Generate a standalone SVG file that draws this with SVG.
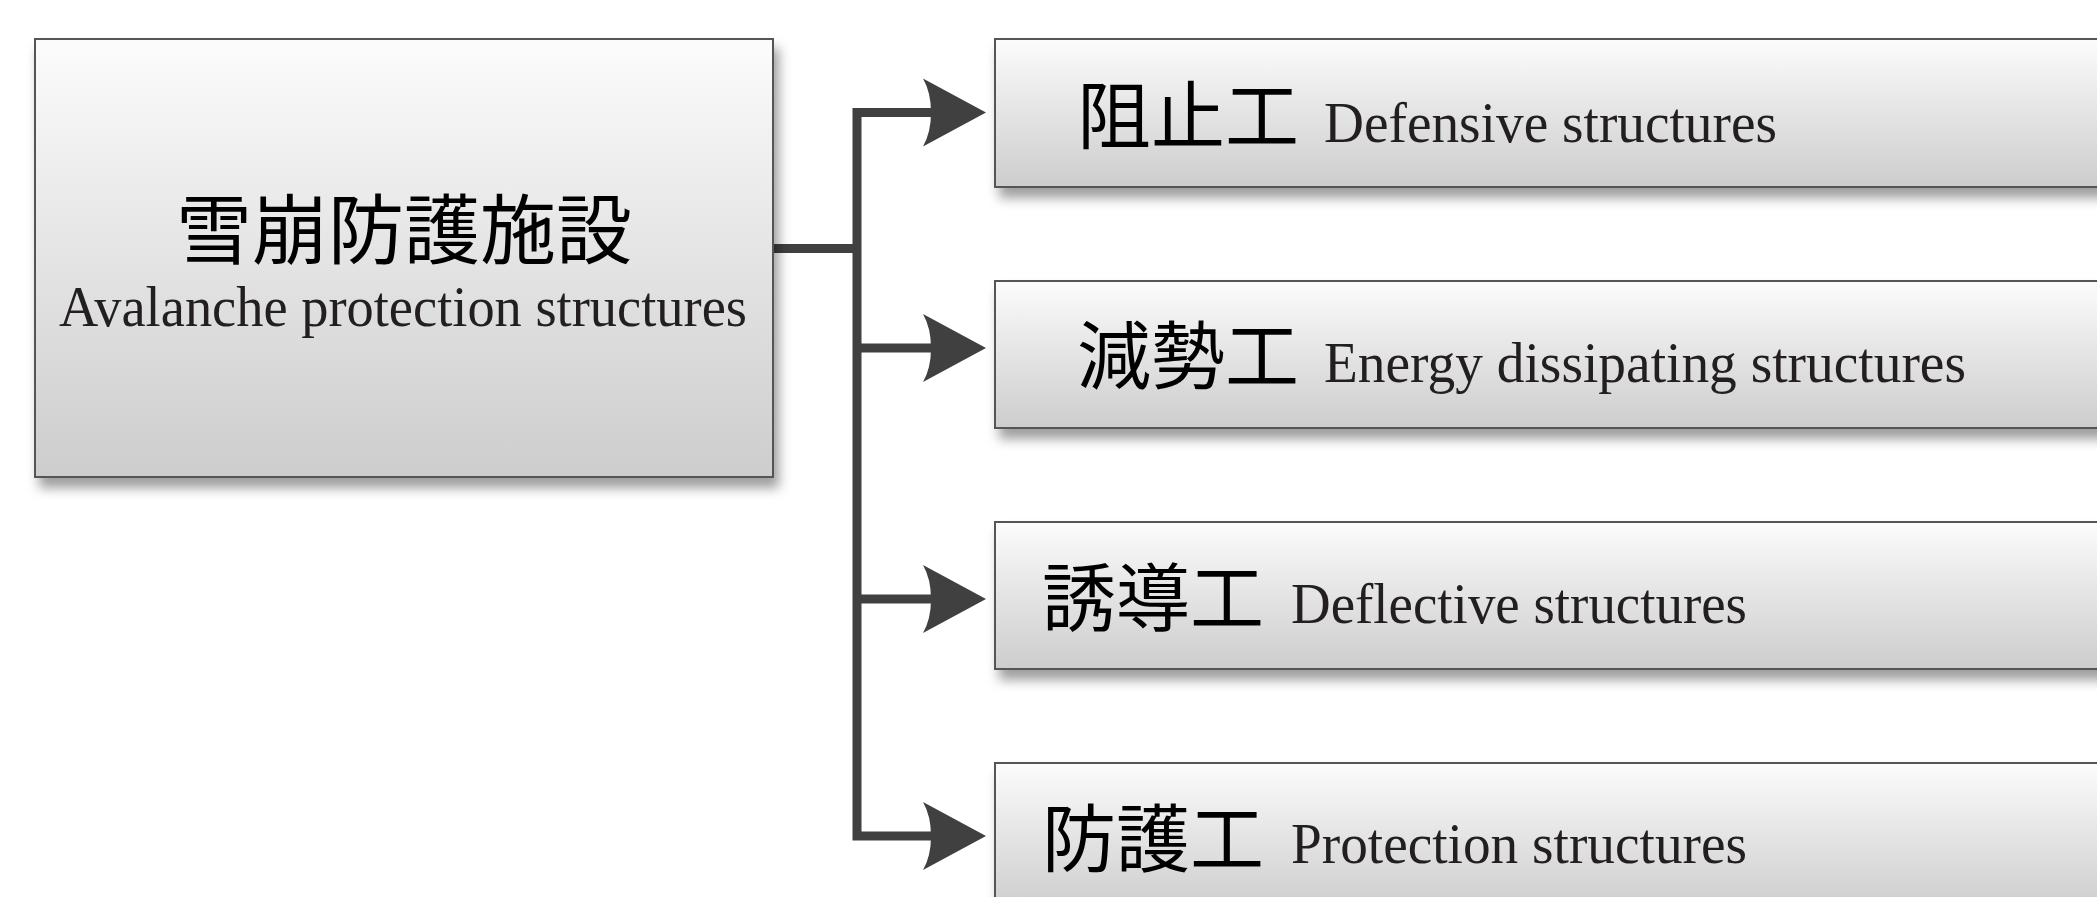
<svg xmlns="http://www.w3.org/2000/svg" width="2097" height="897" viewBox="0 0 2097 897">
  <defs>
    <linearGradient id="boxGrad" x1="0" y1="0" x2="0" y2="1">
      <stop offset="0" stop-color="#fcfcfc"/>
      <stop offset="0.35" stop-color="#ebebeb"/>
      <stop offset="1" stop-color="#cdcdcd"/>
    </linearGradient>
    <filter id="shadow" x="-5%" y="-10%" width="115%" height="135%">
      <feDropShadow dx="5" dy="10" stdDeviation="6" flood-color="#000" flood-opacity="0.38"/>
    </filter>
    <style>
      .box { fill: url(#boxGrad); stroke: #555555; stroke-width: 2; filter: url(#shadow); }
      .cjk { font-family: "Noto Sans CJK JP", "Noto Sans CJK SC", sans-serif; fill: #000000; }
      .en { font-family: "Liberation Serif", "Times New Roman", serif; fill: #231f20; }
      .conn { fill: none; stroke: #404040; stroke-width: 9; stroke-linejoin: miter; }
      .head { fill: #404040; stroke: none; }
    </style>
  </defs>

  <rect width="2097" height="897" fill="#ffffff"/>

  <g id="connectors">
    <path class="conn" d="M773,248.5 H857"/>
    <path class="conn" d="M935,112.5 H857 V836 H935"/>
    <path class="conn" d="M857,348 H935"/>
    <path class="conn" d="M857,599 H935"/>
    <path class="head" d="M923,78.5 Q931,92.5 931,112.5 Q931,132.5 923,146.5 L986,112.5 Z"/>
    <path class="head" d="M923,314 Q931,328 931,348 Q931,368 923,382 L986,348 Z"/>
    <path class="head" d="M923,565 Q931,579 931,599 Q931,619 923,633 L986,599 Z"/>
    <path class="head" d="M923,802 Q931,816 931,836 Q931,856 923,870 L986,836 Z"/>
  </g>

  <g id="node-main">
    <rect class="box" x="35" y="39" width="738" height="438"/>
    <text class="cjk" x="404" y="258" font-size="76" text-anchor="middle">雪崩防護施設</text>
    <text class="en" x="59" y="326" font-size="58" textLength="688" lengthAdjust="spacingAndGlyphs">Avalanche protection structures</text>
  </g>

  <g id="node-defensive">
    <rect class="box" x="995" y="39" width="1130" height="148"/>
    <text class="cjk" x="1077" y="143" font-size="74">阻止工</text>
    <text class="en" x="1324" y="142" font-size="58" textLength="453" lengthAdjust="spacingAndGlyphs">Defensive structures</text>
  </g>

  <g id="node-energy">
    <rect class="box" x="995" y="281" width="1130" height="147"/>
    <text class="cjk" x="1077" y="383" font-size="74">減勢工</text>
    <text class="en" x="1324" y="382" font-size="58" textLength="642" lengthAdjust="spacingAndGlyphs">Energy dissipating structures</text>
  </g>

  <g id="node-deflective">
    <rect class="box" x="995" y="522" width="1130" height="147"/>
    <text class="cjk" x="1042" y="625" font-size="74">誘導工</text>
    <text class="en" x="1291" y="623" font-size="58" textLength="456" lengthAdjust="spacingAndGlyphs">Deflective structures</text>
  </g>

  <g id="node-protection">
    <rect class="box" x="995" y="763" width="1130" height="148"/>
    <text class="cjk" x="1042" y="866" font-size="74">防護工</text>
    <text class="en" x="1291" y="863" font-size="58" textLength="456" lengthAdjust="spacingAndGlyphs">Protection structures</text>
  </g>
</svg>
